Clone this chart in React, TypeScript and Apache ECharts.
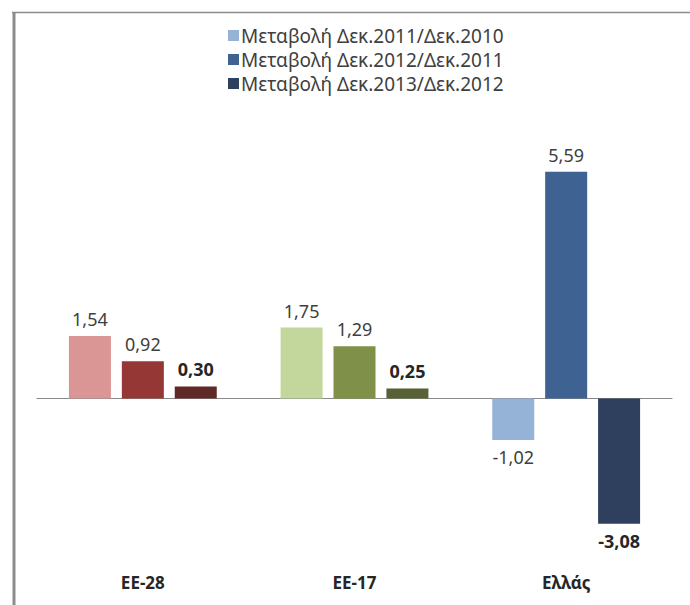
import React, { useEffect, useRef } from "react";
import * as echarts from "echarts";

const categories = ["ΕΕ-28", "ΕΕ-17", "Ελλάς"];
const seriesNames = [
  "Μεταβολή Δεκ.2011/Δεκ.2010",
  "Μεταβολή Δεκ.2012/Δεκ.2011",
  "Μεταβολή Δεκ.2013/Δεκ.2012",
];
const values2011 = [1.54, 1.75, -1.02];
const values2012 = [0.92, 1.29, 5.59];
const values2013 = [0.3, 0.25, -3.08];
const legendColors = ["#95B3D7", "#3E6392", "#2F405E"];
// per-category colours for each series
const barColors = [
  ["#D99694", "#C3D69B", "#95B3D7"],
  ["#953735", "#7F9148", "#3E6392"],
  ["#5E2A27", "#566136", "#2F405E"],
];
const boldSeries = [false, false, true];

const FONT = "'Noto Sans', 'DejaVu Sans', sans-serif";

export default function App() {
  const ref = useRef<HTMLDivElement>(null);
  useEffect(() => {
    if (!ref.current) return;
    const chart = echarts.init(ref.current, undefined, { renderer: "svg" });
    const allValues = [values2011, values2012, values2013];
    const series = allValues.map((vals, si) => ({
      name: seriesNames[si],
      type: "bar",
      barWidth: 42,
      barGap: "26%",
      itemStyle: { color: legendColors[si] },
      label: {
        show: true,
        position: "top",
        distance: 8,
        fontFamily: FONT,
        fontSize: 18,
        fontWeight: boldSeries[si] ? "bold" : "normal",
        color: boldSeries[si] ? "#262626" : "#404040",
        formatter: (p: any) => p.value.toFixed(2).replace(".", ","),
      },
      data: vals.map((v, ci) => ({
        value: v,
        itemStyle: { color: barColors[si][ci] },
        label: v < 0 ? { position: "bottom" } : undefined,
      })),
    }));
    chart.setOption({
      animation: false,
      textStyle: { fontFamily: FONT },
      legend: {
        orient: "vertical",
        left: 223,
        top: 21,
        itemWidth: 11,
        itemHeight: 11,
        itemGap: 5,
        icon: "rect",
        textStyle: { fontFamily: FONT, fontSize: 19, color: "#404040", padding: [0, 0, 0, -3] },
        data: seriesNames,
      },
      grid: { left: 37, right: 18, top: 155, bottom: 44, containLabel: false },
      xAxis: {
        type: "category",
        data: categories,
        axisLine: { show: true, onZero: true, lineStyle: { color: "#888888", width: 1 } },
        axisTick: { show: false },
        axisLabel: {
          fontFamily: FONT,
          fontSize: 17,
          fontWeight: "bold",
          color: "#262626",
          margin: 13,
        },
        position: "bottom",
      },
      yAxis: {
        type: "value",
        min: -4,
        max: 6,
        show: false,
        splitLine: { show: false },
      },
      graphic: [
        {
          type: "line",
          shape: { x1: 12, y1: 12.5, x2: 690, y2: 12.5 },
          style: { stroke: "#8C8C8C", lineWidth: 1.5 },
        },
        {
          type: "line",
          shape: { x1: 14, y1: 12, x2: 14, y2: 605 },
          style: { stroke: "#8C8C8C", lineWidth: 3 },
        },
      ],
      series,
    });
    return () => chart.dispose();
  }, []);
  return (
    <div
      ref={ref}
      style={{ position: "fixed", left: 0, top: 0, width: 690, height: 605, background: "#fff" }}
    />
  );
}
